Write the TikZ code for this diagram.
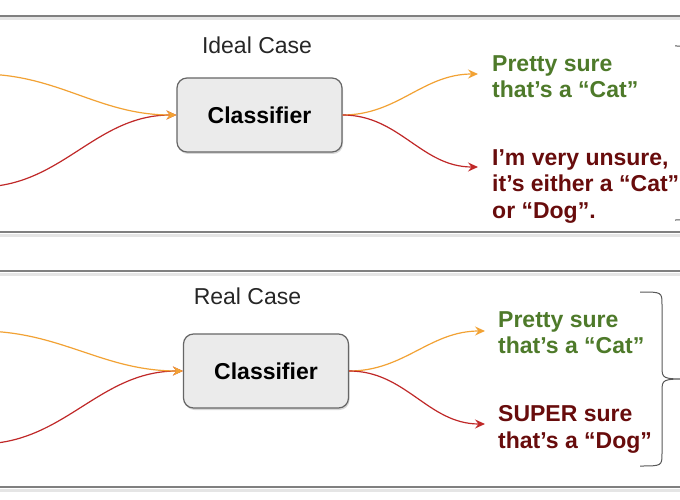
\documentclass[tikz,border=0pt]{standalone}
\usepackage{fontspec}
\setmainfont{Liberation Sans}
\usetikzlibrary{arrows.meta, positioning, shadows}
\definecolor{flowor}{RGB}{242, 162, 52}
\definecolor{flowred}{RGB}{192, 40, 40}
\definecolor{suregreen}{RGB}{78, 122, 42}
\definecolor{surered}{RGB}{104, 12, 12}
\definecolor{panelline}{RGB}{128, 128, 128}

\begin{document}
\begin{tikzpicture}[x=1pt, y=-1pt,
    panel/.style={draw=panelline, line width=1.8pt},
    panelshade/.style={draw=black!10, line width=3pt},
    classbox/.style={rectangle, rounded corners=10pt, draw=black!60, line width=1.2pt,
                     fill=black!8, minimum width=165pt, minimum height=74pt,
                     font=\fontsize{23}{27}\selectfont\bfseries,
                     drop shadow={opacity=0.3, shadow xshift=1pt, shadow yshift=-2pt}},
    title/.style={font=\fontsize{23}{27}\selectfont, text=black!85},
    answer/.style={anchor=north west, inner sep=0pt, align=left,
                   font=\fontsize{23}{26.5}\selectfont\bfseries},
    flow/.style={line width=1.2pt, -{Stealth[length=10pt, width=9pt, inset=3.5pt]}},
    curly/.style={draw=black!65, line width=1pt}]

    \clip (0,0) rectangle (680,500);
    \fill[white] (0,0) rectangle (680,500);

    % Ideal case
    \draw[panelshade] (-10,19) rectangle (700,235);
    \draw[panel] (-10,16) rectangle (700,232);
    \node[title] (T1) at (257,45) {Ideal Case};
    \node[classbox] (C1) at (259.5,115) {Classifier};
    \node[answer, text=suregreen] (G1) at (492,55) {Pretty sure\\that’s a “Cat”};
    \node[answer, text=surered] (R1) at (492,149) {I’m very unsure,\\it’s either a “Cat”\\or “Dog”.};
    \coordinate (in1a) at (-20,74);
    \coordinate (in1b) at (-20,187);
    \coordinate (out1a) at (478,74);
    \coordinate (out1b) at (478,167);

    % Real case
    \draw[panelshade] (-10,274) rectangle (700,490);
    \draw[panel] (-10,271) rectangle (700,487);
    \node[title] (T2) at (247.5,296) {Real Case};
    \node[classbox] (C2) at (266,371) {Classifier};
    \node[answer, text=suregreen] (G2) at (498,311) {Pretty sure\\that’s a “Cat”};
    \node[answer, text=surered] (R2) at (498,405.5) {SUPER sure\\that’s a “Dog”};
    \coordinate (in2a) at (-20,331);
    \coordinate (in2b) at (-20,444);
    \coordinate (out2a) at (485,331);
    \coordinate (out2b) at (485,424);

    % Braces
    \foreach \bx/\by in {675/46, 640/292} {
        \draw[curly, shift={(\bx,\by)}]
            (0,0) .. controls (22,0) .. (22,13) -- (22,74)
            .. controls (22,87) .. (50,87)
            .. controls (22,87) .. (22,100) -- (22,161)
            .. controls (22,174) .. (0,174);
    }

    % Arrows
    \draw[flow, flowred] (in1b) to[out=0, in=180] (C1.west);
    \draw[flow, flowor] (in1a) to[out=0, in=180] (C1.west);
    \draw[flow, flowor] (C1.east) to[out=0, in=180] (out1a);
    \draw[flow, flowred] (C1.east) to[out=0, in=180] (out1b);
    \draw[flow, flowred] (in2b) to[out=0, in=180] (C2.west);
    \draw[flow, flowor] (in2a) to[out=0, in=180] (C2.west);
    \draw[flow, flowor] (C2.east) to[out=0, in=180] (out2a);
    \draw[flow, flowred] (C2.east) to[out=0, in=180] (out2b);
\end{tikzpicture}
\end{document}
